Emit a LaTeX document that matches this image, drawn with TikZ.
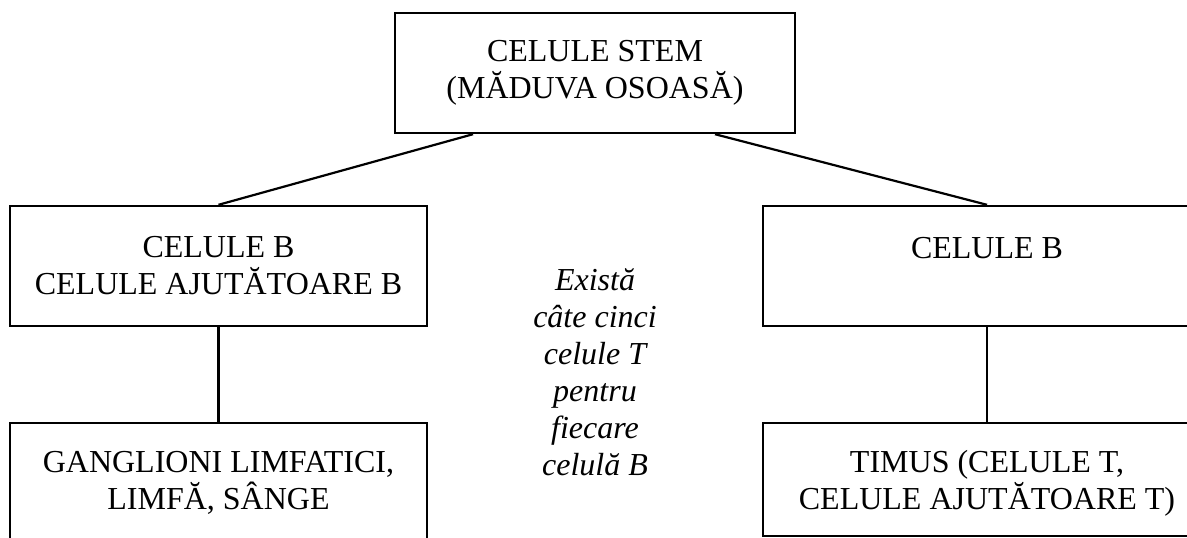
\documentclass[tikz,border=0pt]{standalone}
\usepackage{fontspec}
\setmainfont{Liberation Serif}
\usetikzlibrary{positioning}

\begin{document}
\begin{tikzpicture}[
        x = 0.5pt, y = -0.5pt,
     cell/.style = {draw, rectangle, line width=1.2pt, inner sep=0pt,
                    align=center, font=\fontsize{16pt}{18.5pt}\selectfont},
     note/.style = {align=center, font=\fontsize{16pt}{18.5pt}\selectfont\itshape},
     link/.style = {line width=1.1pt}
                        ]
% frame
\useasboundingbox (0,0) rectangle (1187,537);
\clip (0,0) rectangle (1187,537);
% boxes
\node[cell, minimum width=200pt, minimum height=60pt] (stem) at (595,73)
    {CELULE STEM\\(MĂDUVA OSOASĂ)};
\node[cell, minimum width=208.5pt, minimum height=60pt] (celB) at (218.5,266)
    {CELULE B\\CELULE AJUTĂTOARE B};
\node[cell, minimum width=224pt, minimum height=60pt] (celBr) at (987,266)
    {CELULE B\\~};
\node[cell, minimum width=208.5pt, text height=43pt, text depth=16pt,
      anchor=north] (gangl) at (218.5,422)
    {GANGLIONI LIMFATICI,\\LIMFĂ, SÂNGE};
\node[cell, minimum width=224pt, text height=43pt, text depth=13.5pt,
      anchor=north] (timus) at (987,422)
    {TIMUS (CELULE T,\\CELULE AJUTĂTOARE T)};
% remark in the middle
\node[note] (ratio) at (595,372)
    {Există\\câte cinci\\celule T\\pentru\\fiecare\\celulă B};
% connectors
\draw[link] ([xshift=-61pt]stem.south) -- (celB.north);
\draw[link] ([xshift=60pt]stem.south) -- (celBr.north);
\draw[link] (celB.south) -- (gangl.north);
\draw[link] (celBr.south) -- (timus.north);
\end{tikzpicture}
\end{document}
